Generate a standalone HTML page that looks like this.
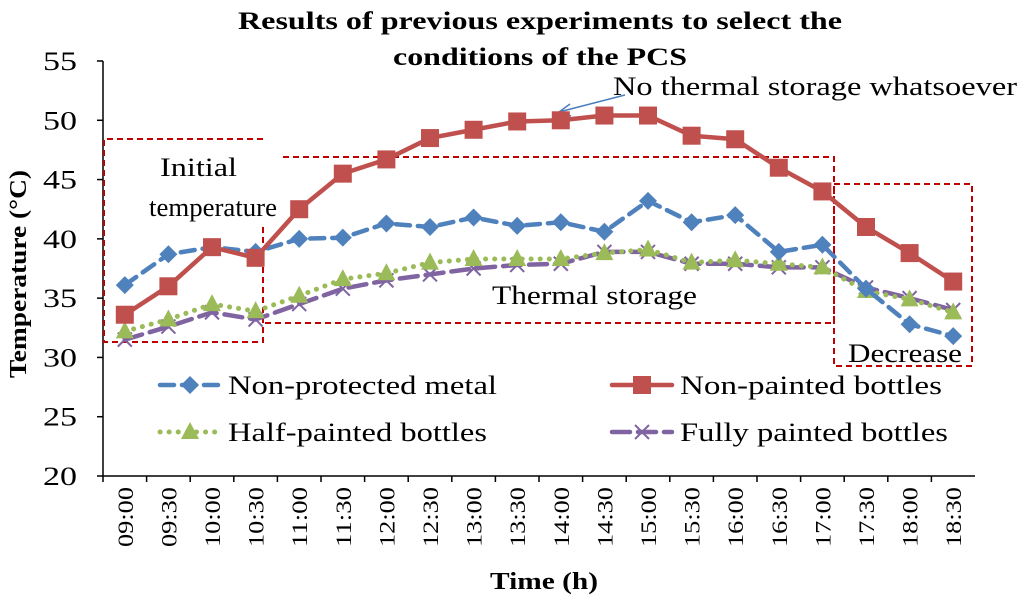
<!DOCTYPE html>
<html><head><meta charset="utf-8"><style>
body{margin:0;background:#fff}
svg text{font-family:"Liberation Serif",serif}
</style></head><body>
<svg width="1024" height="603" xmlns="http://www.w3.org/2000/svg">
<text x="238" y="29" textLength="604" lengthAdjust="spacingAndGlyphs" font-weight="bold" font-size="25">Results of previous experiments to select the</text>
<text x="393" y="65" textLength="294" lengthAdjust="spacingAndGlyphs" font-weight="bold" font-size="25">conditions of the PCS</text>
<g id="axes"></g>
<g id="boxes"></g>
<g id="series"></g>
<g id="legend"></g>
<text x="26" y="274" transform="rotate(-90 26 274)" text-anchor="middle" textLength="208" lengthAdjust="spacingAndGlyphs" font-weight="bold" font-size="24">Temperature (°C)</text>
<text x="490" y="589" textLength="108" lengthAdjust="spacingAndGlyphs" font-weight="bold" font-size="24">Time (h)</text>
</svg>
<script>
const categories=["09:00","09:30","10:00","10:30","11:00","11:30","12:00","12:30","13:00","13:30","14:00","14:30","15:00","15:30","16:00","16:30","17:00","17:30","18:00","18:30"];
const yTicks=[20,25,30,35,40,45,50,55];
const metal=[36.1,38.7,39.3,38.9,40.0,40.1,41.3,41.0,41.8,41.1,41.4,40.6,43.2,41.4,42.0,38.9,39.5,35.8,32.8,31.8];
const nonPainted=[33.6,36.0,39.3,38.4,42.5,45.5,46.7,48.5,49.2,49.9,50.0,50.4,50.4,48.7,48.4,46.0,44.0,41.0,38.8,36.4];
const halfPainted=[32.2,33.2,34.5,33.9,35.2,36.6,37.1,38.0,38.3,38.3,38.3,38.8,39.1,38.0,38.2,37.9,37.6,35.6,34.9,33.8];
const fullyPainted=[31.5,32.6,33.8,33.2,34.5,35.8,36.5,37.0,37.5,37.8,37.9,38.9,38.9,37.9,37.9,37.6,37.6,35.9,35.0,34.0];
const NS="http://www.w3.org/2000/svg";
const X0=103,X1=975,Y0=476,Y1=61;
const step=(X1-X0)/categories.length;
const xs=i=>X0+step*(i+0.5);
const ys=v=>Y0-(v-20)/(55-20)*(Y0-Y1);
function mk(p,tag,a){const e=document.createElementNS(NS,tag);for(const k in a)e.setAttribute(k,a[k]);p.appendChild(e);return e;}
const ax=document.getElementById('axes');
const yl=mk(ax,'line',{x1:X0,y1:Y1,x2:X0,y2:Y0,stroke:'#000','stroke-width':1.5});


const xl=mk(ax,'line',{x1:X0,y1:Y0,x2:X1,y2:Y0,stroke:'#000','stroke-width':1.5});


yTicks.forEach(t=>{
 mk(ax,'line',{x1:X0-6,y1:ys(t),x2:X0,y2:ys(t),stroke:'#000','stroke-width':1.5});
 const tx=mk(ax,'text',{x:X0-26,y:ys(t)+9,'text-anchor':'end','font-size':26,textLength:34,lengthAdjust:'spacingAndGlyphs'});
 tx.textContent=t;
 
 
});
categories.forEach((c,i)=>{
 mk(ax,'line',{x1:X0+step*i,y1:Y0,x2:X0+step*i,y2:Y0+6,stroke:'#000','stroke-width':1.5});
 const x=xs(i),y=Y0+71;
 const tx=mk(ax,'text',{x:x,y:y,transform:`rotate(-90 ${x} ${y})`,'font-size':22,dy:8,textLength:60,lengthAdjust:'spacingAndGlyphs'});
 tx.textContent=c;
 
 
});
const bx=document.getElementById('boxes');
const dash={fill:'none',stroke:'#c00000','stroke-width':2,'stroke-dasharray':'6,4'};
const b1=mk(bx,'path',Object.assign({d:'M263,139 H104 V342 H263 V225'},dash));


const b2=mk(bx,'path',Object.assign({d:'M283,157 H834 V323 H263'},dash));


const b3=mk(bx,'rect',Object.assign({x:834,y:184,width:138,height:182},dash));


[["Initial",160,176,77,'initial-label'],["temperature",149,216,128,'initial-label-2'],["Thermal storage",492,304,205,'thermal-storage-label'],["Decrease",848,362,114,'decrease-label'],["No thermal storage whatsoever",613,95,404,'annotation-label']].forEach(a=>{
 const t=mk(bx,'text',{x:a[1],y:a[2],'font-size':26,textLength:a[3],lengthAdjust:'spacingAndGlyphs'});t.textContent=a[0];
 
 
});
const arr=mk(bx,'path',{d:'M625,95 L559,112 M559,112 L570,104 M559,112 L571,116',stroke:'#4a7ebb','stroke-width':1.5,fill:'none'});


function marker(g,type,x,y,col){
 if(type==='diamond')return mk(g,'path',{d:`M${x},${y-9}L${x+9},${y}L${x},${y+9}L${x-9},${y}Z`,fill:col});
 if(type==='square')return mk(g,'rect',{x:x-9,y:y-9,width:18,height:18,fill:col});
 if(type==='triangle')return mk(g,'path',{d:`M${x},${y-10}L${x+9},${y+7}L${x-9},${y+7}Z`,fill:col});
 return mk(g,'path',{d:`M${x-7},${y-7}L${x+7},${y+7}M${x+7},${y-7}L${x-7},${y+7}`,stroke:col,'stroke-width':2});
}
const sers=[
 {d:fullyPainted,c:'#8064a2',m:'x',dash:'18,8',w:4.5,n:'series-fully-painted'},
 {d:halfPainted,c:'#9bbb59',m:'triangle',dash:'0.1,9',w:5,n:'series-half-painted'},
 {d:metal,c:'#4f81bd',m:'diamond',dash:'14,8',w:4.5,n:'series-non-protected-metal'},
 {d:nonPainted,c:'#c0504d',m:'square',dash:'',w:4.5,n:'series-non-painted'}
];
const sg=document.getElementById('series');
sers.forEach(s=>{
 const g=mk(sg,'g',{});
 
 
 const pl=mk(g,'polyline',{points:s.d.map((v,i)=>xs(i)+','+ys(v)).join(' '),fill:'none',stroke:s.c,'stroke-width':s.w,'stroke-dasharray':s.dash,'stroke-linecap':'round'});
 
 
 s.d.forEach((v,i)=>{const m=marker(g,s.m,xs(i),ys(v),s.c);
  
  });
});
const lg=document.getElementById('legend');
[[sers[2],'Non-protected metal',160,385,269],[sers[3],'Non-painted bottles',612,385,262],[sers[1],'Half-painted bottles',160,432,259],[sers[0],'Fully painted bottles',612,432,268]].forEach(e=>{
 const g=mk(lg,'g',{});
 
 
 const s=e[0],x=e[2],y=e[3];
 mk(g,'line',{x1:x,y1:y,x2:x+60,y2:y,stroke:s.c,'stroke-width':s.w,'stroke-dasharray':s.dash,'stroke-linecap':'round'});
 marker(g,s.m,x+30,y,s.c);
 const t=mk(g,'text',{x:x+68,y:y+9,'font-size':26,textLength:e[4],lengthAdjust:'spacingAndGlyphs'});t.textContent=e[1];
});
</script>
</body></html>
